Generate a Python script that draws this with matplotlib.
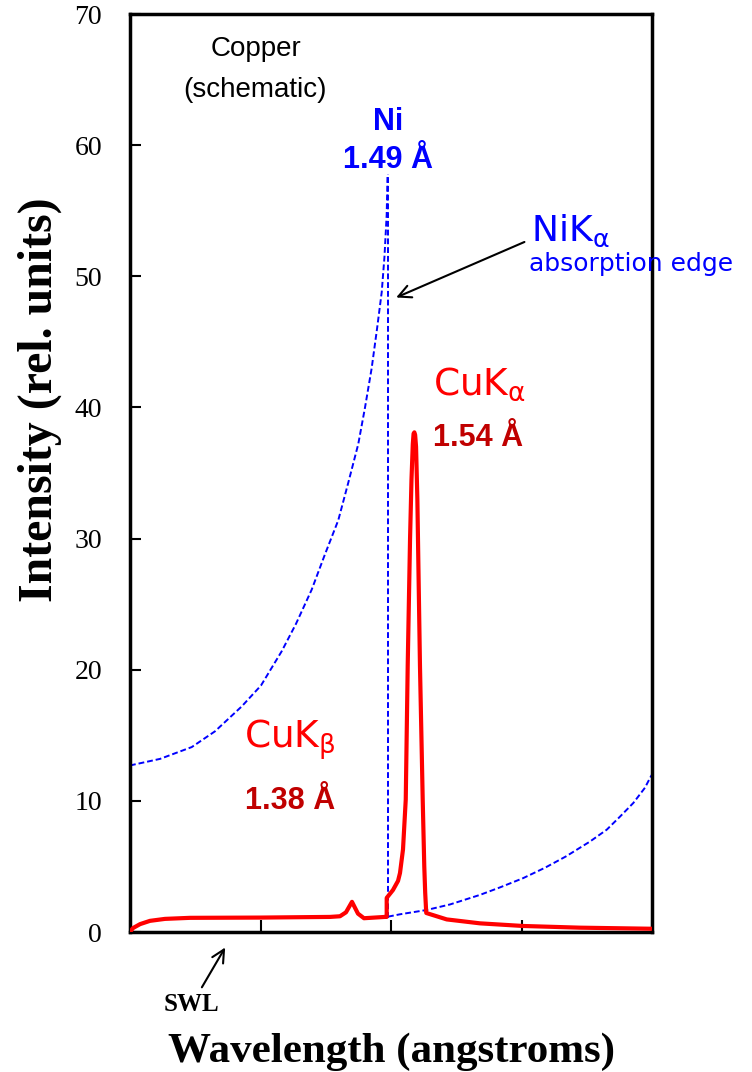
import numpy as np
import matplotlib
matplotlib.use("Agg")
import matplotlib.pyplot as plt

plt.rcParams['mathtext.fontset'] = 'dejavusans'

# schematic wavelength axis (arbitrary units, ticks without labels)
x_ticks = [0, 1, 2, 3, 4]
y_ticks = [0, 10, 20, 30, 40, 50, 60, 70]

# Cu emission spectrum (red)
cu_x = [0.0, 0.023, 0.077, 0.153, 0.268, 0.46, 0.996, 1.533, 1.609, 1.655, 1.701, 1.747, 1.793,
        1.954, 1.967, 1.967, 2.015, 2.054, 2.069, 2.092, 2.113, 2.128, 2.146, 2.157, 2.167,
        2.173, 2.179, 2.185, 2.192, 2.202, 2.222, 2.243, 2.255, 2.262, 2.270, 2.427, 2.682,
        3.011, 3.448, 3.985]
cu_y = [0.0, 0.3, 0.6, 0.85, 1.0, 1.08, 1.1, 1.15, 1.2, 1.5, 2.3, 1.4, 1.05,
        1.15, 1.15, 2.6, 3.2, 3.9, 4.5, 6.3, 10.1, 20.3, 30.0, 34.5, 37.2,
        38.0, 38.1, 37.9, 37.0, 33.0, 20.3, 10.1, 5.0, 3.0, 1.45, 0.96, 0.66,
        0.46, 0.33, 0.25]

# Ni absorption (blue dashed), left branch, edge and right branch
ni_left_x = [0.0, 0.23, 0.473, 0.651, 0.856, 1.004, 1.162, 1.272, 1.392, 1.494, 1.596,
             1.671, 1.749, 1.801, 1.852, 1.893, 1.929, 1.950, 1.967, 1.973]
ni_left_y = [12.7, 13.2, 14.1, 15.3, 17.2, 18.8, 21.4, 23.5, 26.1, 28.8, 31.4,
             34.2, 37.2, 40.0, 43.0, 46.0, 48.8, 51.5, 54.7, 57.6]
ni_edge_x = [1.977, 1.977]
ni_edge_y = [1.1, 57.8]
ni_right_x = [1.977, 2.069, 2.274, 2.452, 2.682, 2.835, 3.011, 3.180, 3.34, 3.525,
              3.653, 3.755, 3.857, 3.946, 3.985, 4.0]
ni_right_y = [1.17, 1.35, 1.68, 2.1, 2.83, 3.4, 4.1, 4.9, 5.76, 6.9,
              7.8, 8.8, 9.84, 11.0, 11.75, 12.0]

fig = plt.figure(figsize=(7.52, 10.72), dpi=100)
ax = fig.add_axes([130 / 752, 140 / 1072, 522 / 752, 918 / 1072])

blue = "#0000ff"
dash = (3, 1.5)
ax.plot(ni_left_x, ni_left_y, color=blue, lw=1.4, dashes=dash)
ax.plot(ni_edge_x, ni_edge_y, color=blue, lw=1.4, dashes=dash)
ax.plot(ni_right_x, ni_right_y, color=blue, lw=1.4, dashes=dash)
ax.plot(cu_x, cu_y, color="#ff0000", lw=3.0, solid_joinstyle="round", zorder=3)

ax.set_xlim(0, 4)
ax.set_ylim(0, 70)
ax.set_xticks(x_ticks)
ax.set_xticklabels([])
ax.set_yticks(y_ticks)
ax.tick_params(axis="x", direction="in", length=9, width=1.5)
ax.tick_params(axis="y", direction="in", length=8, width=1.5, pad=20, labelsize=20)
for lab in ax.get_yticklabels():
    lab.set_family("Liberation Serif")
for s in ax.spines.values():
    s.set_linewidth(2.5)

ax.set_xlabel("Wavelength (angstroms)", family="Liberation Serif", weight="bold", fontsize=31)
ax.xaxis.set_label_coords(0.5, -0.109)
ax.set_ylabel("Intensity (rel. units)", family="Liberation Serif", weight="bold", fontsize=34.5)
ax.yaxis.set_label_coords(-0.131, 0.58)

sans = "Liberation Sans"
ax.text(0.965, 67.3, "Copper", family=sans, fontsize=20, ha="center", va="center")
ax.text(0.955, 64.2, "(schematic)", family=sans, fontsize=20, ha="center", va="center")

ax.text(1.98, 61.8, "Ni", family=sans, weight="bold", fontsize=22, color=blue, ha="center", va="center")
ax.text(1.98, 58.9, "1.49 Å", family=sans, weight="bold", fontsize=22, color=blue, ha="center", va="center")

ax.text(3.07, 53.5, r"NiK$_{\mathregular{α}}$", fontsize=26, color=blue, ha="left", va="center")
ax.text(3.06, 50.9, "absorption edge", fontsize=18, color=blue, ha="left", va="center", clip_on=False)

ax.text(2.32, 41.8, r"CuK$_{\mathregular{α}}$", fontsize=27, color="#ff0000", ha="left", va="center")
ax.text(2.32, 37.7, "1.54 Å", family=sans, weight="bold", fontsize=22, color="#c00000", ha="left", va="center")

ax.text(0.87, 14.7, r"CuK$_{\mathregular{β}}$", fontsize=27, color="#ff0000", ha="left", va="center")
ax.text(0.88, 10.0, "1.38 Å", family=sans, weight="bold", fontsize=22, color="#c00000", ha="left", va="center")

ax.annotate("", xy=(2.02, 48.3), xytext=(3.042, 52.7),
            arrowprops=dict(arrowstyle="->,head_length=0.9,head_width=0.45", lw=1.5, color="black"))
ax.annotate("", xy=(0.74, -1.0), xytext=(0.54, -4.4), annotation_clip=False,
            arrowprops=dict(arrowstyle="->,head_length=0.9,head_width=0.45", lw=1.5, color="black"))
ax.text(0.47, -5.5, "SWL", family="Liberation Serif", weight="bold", fontsize=18,
        ha="center", va="center", clip_on=False)

fig.savefig("out.png", dpi=100)
